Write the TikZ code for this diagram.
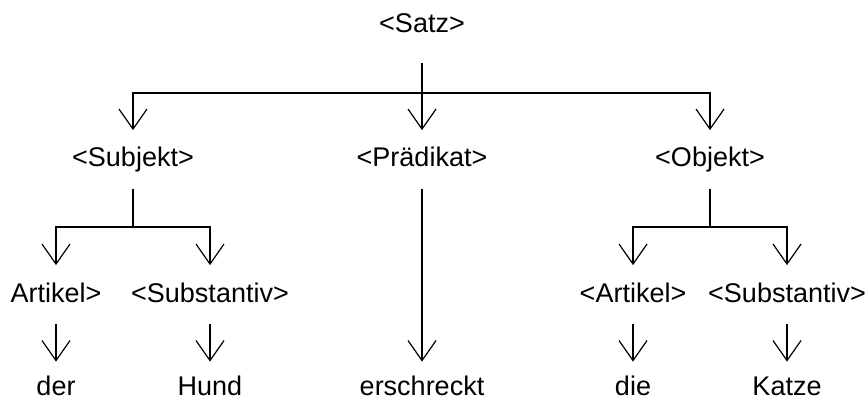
\documentclass[tikz,border=0pt]{standalone}
\usepackage{fontspec}
\setmainfont{Liberation Sans}
\usetikzlibrary{arrows.meta}

\begin{document}
\begin{tikzpicture}[
    x=0.5pt, y=-0.5pt,
    cat/.style={inner sep=0pt, text height=10pt, text depth=2.5pt,
      minimum height=29pt, font=\fontsize{13.5}{16}\selectfont},
    word/.style={cat, minimum height=25.5pt},
    stem/.style={line width=0.6pt},
    arr/.style={stem, -{Straight Barb[length=10pt, width=14pt]}},
  ]
  \useasboundingbox (0,0) rectangle (865,400);

  % categories
  \node[cat, minimum height=37.5pt] (satz) at (422,25.5) {<Satz>};
  \node[cat] (subj) at (133,159.5) {<Subjekt>};
  \node[cat] (prad) at (422,159.5) {<Prädikat>};
  \node[cat] (obj) at (710,159.5) {<Objekt>};
  \node[cat] (art1) at (56,294.5) {Artikel>};
  \node[cat] (subst1) at (210,294.5) {<Substantiv>};
  \node[cat] (art2) at (633,294.5) {<Artikel>};
  \node[cat] (subst2) at (787,294.5) {<Substantiv>};

  % words
  \node[word] (der) at (56,387.5) {der};
  \node[word] (hund) at (210,387.5) {Hund};
  \node[word] (verb) at (422,387.5) {erschreckt};
  \node[word] (die) at (633,387.5) {die};
  \node[word] (katze) at (787,387.5) {Katze};

  % junctions
  \coordinate (j0) at (422,93);
  \coordinate (j1) at (133,227);
  \coordinate (j2) at (710,227);

  \draw[stem] (satz) -- (j0);
  \draw[arr] (j0) -| (subj);
  \draw[arr] (j0) -- (prad);
  \draw[arr] (j0) -| (obj);

  \draw[stem] (subj) -- (j1);
  \draw[arr] (j1) -| (art1);
  \draw[arr] (j1) -| (subst1);

  \draw[stem] (obj) -- (j2);
  \draw[arr] (j2) -| (art2);
  \draw[arr] (j2) -| (subst2);

  \draw[arr] (art1) -- (der);
  \draw[arr] (subst1) -- (hund);
  \draw[arr] (prad) -- (verb);
  \draw[arr] (art2) -- (die);
  \draw[arr] (subst2) -- (katze);
\end{tikzpicture}
\end{document}
